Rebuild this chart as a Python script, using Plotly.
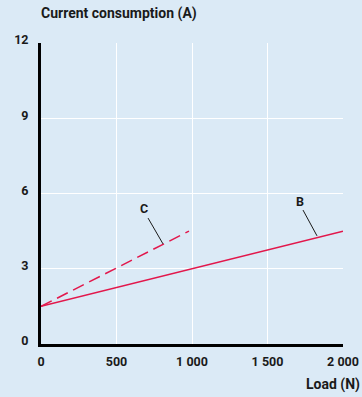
import plotly.graph_objects as go

# Current consumption vs load
load_b = [0, 2000]
current_b = [1.5, 4.5]
load_c = [0, 980]
current_c = [1.5, 4.5]

x_ticks = [0, 500, 1000, 1500, 2000]
x_labels = ["0", "500", "1 000", "1 500", "2 000"]
y_ticks = [0, 3, 6, 9, 12]

RED = "#e2174b"
BG = "#dbeaf6"
FONT = dict(family="Roboto", size=12.5, color="#1a1a1a")
TFONT = dict(family="Roboto", size=14, color="#1a1a1a")

fig = go.Figure()

fig.add_trace(go.Scatter(x=load_b, y=current_b, mode="lines",
                         line=dict(color=RED, width=1.5), name="B"))
fig.add_trace(go.Scatter(x=load_c, y=current_c, mode="lines",
                         line=dict(color=RED, width=1.5, dash="12px,6px"), name="C"))

# series labels with leader lines
labels = [("C", 682, 5.4, 709, 5.02, 808, 3.99),
          ("B", 1715, 5.7, 1735, 5.34, 1828, 4.31)]
for txt, lx, ly, x0, y0, x1, y1 in labels:
    fig.add_annotation(x=lx, y=ly, text="<b>" + txt + "</b>", showarrow=False,
                       font=FONT)
    fig.add_shape(type="line", x0=x0, y0=y0, x1=x1, y1=y1,
                  line=dict(color="#1a1a1a", width=1))

fig.add_annotation(x=-0.007, y=1.0, xref="paper", yref="paper",
                   xanchor="left", yanchor="bottom", yshift=19,
                   text="<b>Current consumption (A)</b>", showarrow=False,
                   font=TFONT)
fig.add_annotation(x=1.0, y=0, xref="paper", yref="paper",
                   xanchor="right", yanchor="top", xshift=19, yshift=-30,
                   text="<b>Load (N)</b>", showarrow=False,
                   font=TFONT)

fig.update_xaxes(range=[0, 2000], tickvals=x_ticks,
                 ticktext=["<b>" + t + "</b>" for t in x_labels],
                 showgrid=True, gridcolor="white", gridwidth=1,
                 zeroline=False, showline=True, linecolor="black", linewidth=3,
                 ticks="", ticklabelstandoff=4, tickfont=FONT,
                 automargin=False, fixedrange=True)
fig.update_yaxes(range=[0, 12], tickvals=y_ticks,
                 ticktext=["<b>%d</b>" % t for t in y_ticks],
                 showgrid=True, gridcolor="white", gridwidth=1,
                 zeroline=False, showline=True, linecolor="black", linewidth=3,
                 ticks="", ticklabelstandoff=7, ticklabelshift=-3,
                 tickfont=FONT, automargin=False, fixedrange=True)

fig.update_layout(
    width=362, height=397, autosize=False,
    margin=dict(l=41, r=19, t=43, b=53),
    paper_bgcolor=BG, plot_bgcolor=BG,
    showlegend=False,
)

fig.write_html("out.html", config={"displayModeBar": False, "responsive": False},
               default_width="362px", default_height="397px",
               post_script="document.body.style.margin='0';"
                           "document.body.style.overflow='hidden';")
